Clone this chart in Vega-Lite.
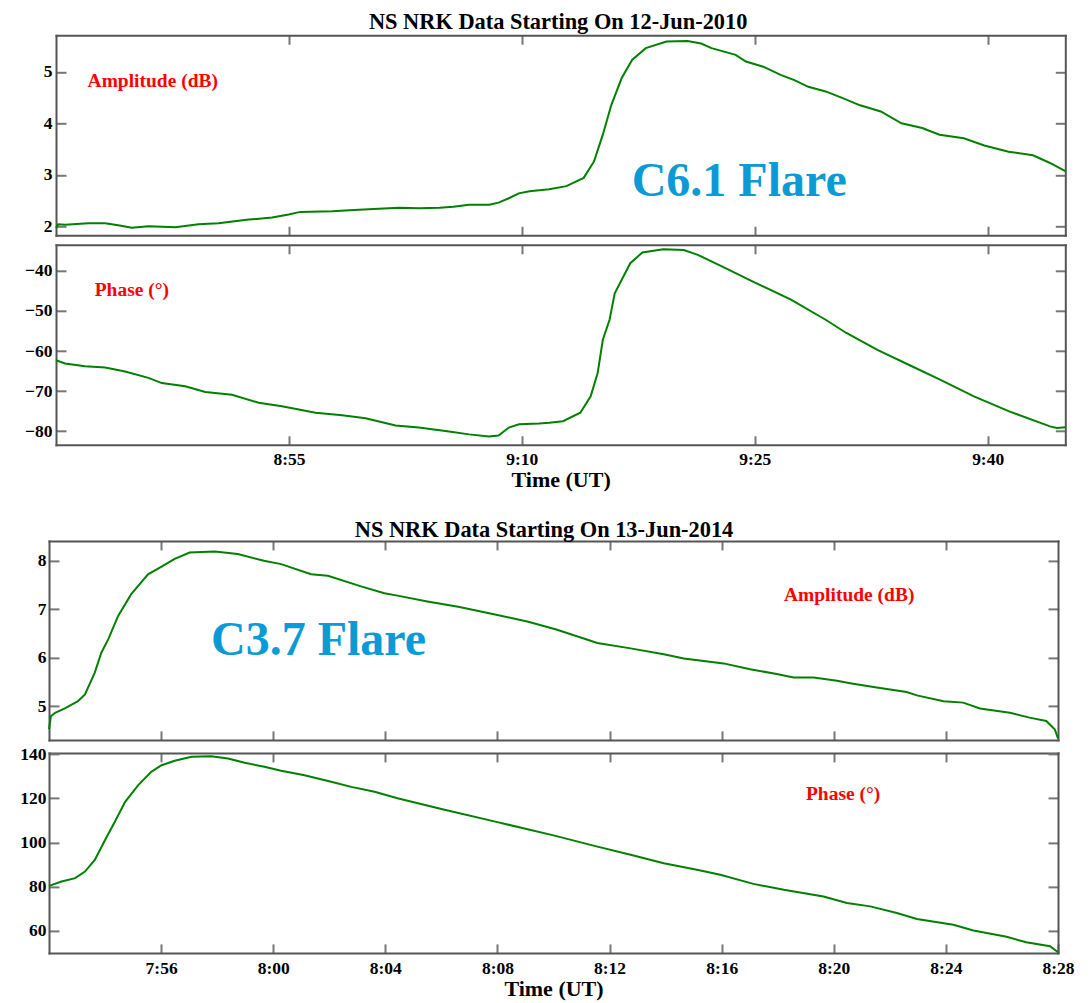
{
  "$schema": "https://vega.github.io/schema/vega-lite/v6.json",
  "background": "white",
  "padding": {"left": 0, "top": 10.3, "right": 10, "bottom": 5},
  "config": {
    "font": "Liberation Serif",
    "view": {"stroke": null},
    "axis": {"grid": false, "domain": true, "domainColor": "#555555", "domainWidth": 2, "domainCap": "square", "labelFont": "Liberation Serif", "labelFontWeight": "bold", "labelFontSize": 17.5, "labelColor": "#000000", "tickColor": "#777777", "tickWidth": 2, "titleFont": "Liberation Serif", "titleFontWeight": "bold", "titleFontSize": 22, "titleColor": "#000000", "labelFlush": false, "labelOverlap": false},
    "title": {"font": "Liberation Serif", "fontSize": 22.4, "fontWeight": "bold", "color": "#000000", "anchor": "middle", "baseline": "alphabetic"}
  },
  "datasets": {
    "amp2010": [
      {"t": "2010-06-12T08:40:00", "v": 1.97}, {"t": "2010-06-12T08:40:09", "v": 2.04}, {"t": "2010-06-12T08:40:35", "v": 2.03}, {"t": "2010-06-12T08:42:05", "v": 2.06}, {"t": "2010-06-12T08:43:10", "v": 2.06}, {"t": "2010-06-12T08:44:00", "v": 2.02}, {"t": "2010-06-12T08:44:53", "v": 1.97}, {"t": "2010-06-12T08:45:57", "v": 2.0}, {"t": "2010-06-12T08:47:41", "v": 1.98}, {"t": "2010-06-12T08:49:11", "v": 2.04}, {"t": "2010-06-12T08:50:28", "v": 2.06}, {"t": "2010-06-12T08:52:25", "v": 2.13}, {"t": "2010-06-12T08:53:55", "v": 2.17}, {"t": "2010-06-12T08:54:59", "v": 2.23}, {"t": "2010-06-12T08:55:44", "v": 2.28}, {"t": "2010-06-12T08:57:47", "v": 2.29}, {"t": "2010-06-12T08:59:30", "v": 2.32}, {"t": "2010-06-12T09:02:05", "v": 2.36}, {"t": "2010-06-12T09:03:24", "v": 2.35}, {"t": "2010-06-12T09:04:42", "v": 2.36}, {"t": "2010-06-12T09:05:36", "v": 2.38}, {"t": "2010-06-12T09:06:36", "v": 2.42}, {"t": "2010-06-12T09:07:54", "v": 2.42}, {"t": "2010-06-12T09:08:30", "v": 2.46}, {"t": "2010-06-12T09:09:12", "v": 2.55}, {"t": "2010-06-12T09:09:48", "v": 2.64}, {"t": "2010-06-12T09:10:30", "v": 2.68}, {"t": "2010-06-12T09:11:46", "v": 2.72}, {"t": "2010-06-12T09:12:52", "v": 2.78}, {"t": "2010-06-12T09:13:59", "v": 2.94}, {"t": "2010-06-12T09:14:39", "v": 3.26}, {"t": "2010-06-12T09:15:13", "v": 3.78}, {"t": "2010-06-12T09:15:46", "v": 4.36}, {"t": "2010-06-12T09:16:26", "v": 4.88}, {"t": "2010-06-12T09:17:06", "v": 5.23}, {"t": "2010-06-12T09:17:59", "v": 5.46}, {"t": "2010-06-12T09:19:19", "v": 5.59}, {"t": "2010-06-12T09:20:40", "v": 5.6}, {"t": "2010-06-12T09:21:33", "v": 5.55}, {"t": "2010-06-12T09:22:13", "v": 5.46}, {"t": "2010-06-12T09:23:46", "v": 5.33}, {"t": "2010-06-12T09:24:26", "v": 5.2}, {"t": "2010-06-12T09:25:33", "v": 5.1}, {"t": "2010-06-12T09:26:40", "v": 4.94}, {"t": "2010-06-12T09:27:33", "v": 4.84}, {"t": "2010-06-12T09:28:27", "v": 4.71}, {"t": "2010-06-12T09:29:34", "v": 4.62}, {"t": "2010-06-12T09:30:40", "v": 4.49}, {"t": "2010-06-12T09:31:47", "v": 4.35}, {"t": "2010-06-12T09:33:07", "v": 4.23}, {"t": "2010-06-12T09:34:27", "v": 4.0}, {"t": "2010-06-12T09:35:47", "v": 3.91}, {"t": "2010-06-12T09:36:54", "v": 3.78}, {"t": "2010-06-12T09:38:28", "v": 3.71}, {"t": "2010-06-12T09:39:47", "v": 3.57}, {"t": "2010-06-12T09:41:21", "v": 3.45}, {"t": "2010-06-12T09:42:55", "v": 3.38}, {"t": "2010-06-12T09:44:01", "v": 3.23}, {"t": "2010-06-12T09:45:00", "v": 3.07}
    ],
    "ph2010": [
      {"t": "2010-06-12T08:40:00", "v": -62.3}, {"t": "2010-06-12T08:40:35", "v": -63.1}, {"t": "2010-06-12T08:41:52", "v": -63.8}, {"t": "2010-06-12T08:43:10", "v": -64.1}, {"t": "2010-06-12T08:44:27", "v": -65.1}, {"t": "2010-06-12T08:45:57", "v": -66.7}, {"t": "2010-06-12T08:46:49", "v": -68.0}, {"t": "2010-06-12T08:48:19", "v": -68.8}, {"t": "2010-06-12T08:49:37", "v": -70.2}, {"t": "2010-06-12T08:51:20", "v": -70.9}, {"t": "2010-06-12T08:53:03", "v": -72.9}, {"t": "2010-06-12T08:54:33", "v": -73.8}, {"t": "2010-06-12T08:56:43", "v": -75.4}, {"t": "2010-06-12T08:58:26", "v": -76.0}, {"t": "2010-06-12T08:59:56", "v": -76.8}, {"t": "2010-06-12T09:01:52", "v": -78.6}, {"t": "2010-06-12T09:03:22", "v": -79.1}, {"t": "2010-06-12T09:05:19", "v": -80.1}, {"t": "2010-06-12T09:06:36", "v": -80.8}, {"t": "2010-06-12T09:07:53", "v": -81.3}, {"t": "2010-06-12T09:08:30", "v": -81.1}, {"t": "2010-06-12T09:09:10", "v": -79.1}, {"t": "2010-06-12T09:09:49", "v": -78.3}, {"t": "2010-06-12T09:11:07", "v": -78.1}, {"t": "2010-06-12T09:11:46", "v": -77.9}, {"t": "2010-06-12T09:12:39", "v": -77.5}, {"t": "2010-06-12T09:13:46", "v": -75.4}, {"t": "2010-06-12T09:14:26", "v": -71.3}, {"t": "2010-06-12T09:14:53", "v": -65.5}, {"t": "2010-06-12T09:15:13", "v": -57.2}, {"t": "2010-06-12T09:15:39", "v": -52.2}, {"t": "2010-06-12T09:15:59", "v": -45.6}, {"t": "2010-06-12T09:16:26", "v": -42.2}, {"t": "2010-06-12T09:16:59", "v": -38.1}, {"t": "2010-06-12T09:17:46", "v": -35.4}, {"t": "2010-06-12T09:19:06", "v": -34.6}, {"t": "2010-06-12T09:20:26", "v": -34.8}, {"t": "2010-06-12T09:21:20", "v": -36.0}, {"t": "2010-06-12T09:22:53", "v": -38.9}, {"t": "2010-06-12T09:24:53", "v": -42.7}, {"t": "2010-06-12T09:27:20", "v": -47.2}, {"t": "2010-06-12T09:29:34", "v": -52.2}, {"t": "2010-06-12T09:30:54", "v": -55.5}, {"t": "2010-06-12T09:32:54", "v": -59.7}, {"t": "2010-06-12T09:35:07", "v": -63.8}, {"t": "2010-06-12T09:36:54", "v": -67.1}, {"t": "2010-06-12T09:39:07", "v": -71.3}, {"t": "2010-06-12T09:41:21", "v": -75.0}, {"t": "2010-06-12T09:44:01", "v": -78.8}, {"t": "2010-06-12T09:44:28", "v": -79.2}, {"t": "2010-06-12T09:45:00", "v": -79.0}
    ],
    "amp2014": [
      {"t": "2014-06-13T07:52:00", "v": 4.52}, {"t": "2014-06-13T07:52:04", "v": 4.79}, {"t": "2014-06-13T07:52:13", "v": 4.86}, {"t": "2014-06-13T07:52:34", "v": 4.95}, {"t": "2014-06-13T07:53:02", "v": 5.1}, {"t": "2014-06-13T07:53:17", "v": 5.24}, {"t": "2014-06-13T07:53:38", "v": 5.69}, {"t": "2014-06-13T07:53:52", "v": 6.1}, {"t": "2014-06-13T07:54:07", "v": 6.38}, {"t": "2014-06-13T07:54:28", "v": 6.86}, {"t": "2014-06-13T07:54:56", "v": 7.31}, {"t": "2014-06-13T07:55:32", "v": 7.72}, {"t": "2014-06-13T07:56:01", "v": 7.88}, {"t": "2014-06-13T07:56:29", "v": 8.04}, {"t": "2014-06-13T07:57:01", "v": 8.17}, {"t": "2014-06-13T07:57:55", "v": 8.19}, {"t": "2014-06-13T07:58:44", "v": 8.14}, {"t": "2014-06-13T07:59:40", "v": 8.0}, {"t": "2014-06-13T08:00:17", "v": 7.93}, {"t": "2014-06-13T08:01:21", "v": 7.72}, {"t": "2014-06-13T08:01:57", "v": 7.69}, {"t": "2014-06-13T08:03:08", "v": 7.47}, {"t": "2014-06-13T08:03:58", "v": 7.33}, {"t": "2014-06-13T08:04:26", "v": 7.28}, {"t": "2014-06-13T08:05:30", "v": 7.16}, {"t": "2014-06-13T08:06:36", "v": 7.05}, {"t": "2014-06-13T08:08:00", "v": 6.88}, {"t": "2014-06-13T08:09:06", "v": 6.74}, {"t": "2014-06-13T08:10:06", "v": 6.58}, {"t": "2014-06-13T08:11:34", "v": 6.3}, {"t": "2014-06-13T08:12:45", "v": 6.19}, {"t": "2014-06-13T08:13:56", "v": 6.07}, {"t": "2014-06-13T08:14:39", "v": 5.98}, {"t": "2014-06-13T08:16:04", "v": 5.88}, {"t": "2014-06-13T08:17:01", "v": 5.76}, {"t": "2014-06-13T08:17:58", "v": 5.66}, {"t": "2014-06-13T08:18:34", "v": 5.59}, {"t": "2014-06-13T08:19:17", "v": 5.59}, {"t": "2014-06-13T08:20:07", "v": 5.52}, {"t": "2014-06-13T08:20:35", "v": 5.47}, {"t": "2014-06-13T08:21:32", "v": 5.38}, {"t": "2014-06-13T08:22:36", "v": 5.29}, {"t": "2014-06-13T08:22:58", "v": 5.22}, {"t": "2014-06-13T08:23:55", "v": 5.1}, {"t": "2014-06-13T08:24:37", "v": 5.07}, {"t": "2014-06-13T08:25:13", "v": 4.95}, {"t": "2014-06-13T08:26:17", "v": 4.86}, {"t": "2014-06-13T08:26:59", "v": 4.76}, {"t": "2014-06-13T08:27:35", "v": 4.69}, {"t": "2014-06-13T08:27:53", "v": 4.52}, {"t": "2014-06-13T08:28:00", "v": 4.33}
    ],
    "ph2014": [
      {"t": "2014-06-13T07:52:00", "v": 80.3}, {"t": "2014-06-13T07:52:27", "v": 82.3}, {"t": "2014-06-13T07:52:56", "v": 83.8}, {"t": "2014-06-13T07:53:17", "v": 86.8}, {"t": "2014-06-13T07:53:38", "v": 92.1}, {"t": "2014-06-13T07:54:00", "v": 101.1}, {"t": "2014-06-13T07:54:21", "v": 109.4}, {"t": "2014-06-13T07:54:43", "v": 118.4}, {"t": "2014-06-13T07:55:11", "v": 126.0}, {"t": "2014-06-13T07:55:39", "v": 132.0}, {"t": "2014-06-13T07:56:01", "v": 135.0}, {"t": "2014-06-13T07:56:29", "v": 137.0}, {"t": "2014-06-13T07:57:05", "v": 138.8}, {"t": "2014-06-13T07:57:47", "v": 139.1}, {"t": "2014-06-13T07:58:23", "v": 138.1}, {"t": "2014-06-13T07:58:59", "v": 136.1}, {"t": "2014-06-13T07:59:41", "v": 134.3}, {"t": "2014-06-13T08:00:17", "v": 132.5}, {"t": "2014-06-13T08:01:07", "v": 130.5}, {"t": "2014-06-13T08:02:04", "v": 127.5}, {"t": "2014-06-13T08:02:47", "v": 125.2}, {"t": "2014-06-13T08:03:37", "v": 123.0}, {"t": "2014-06-13T08:04:26", "v": 120.0}, {"t": "2014-06-13T08:06:00", "v": 115.2}, {"t": "2014-06-13T08:08:00", "v": 109.2}, {"t": "2014-06-13T08:10:00", "v": 103.2}, {"t": "2014-06-13T08:11:34", "v": 98.1}, {"t": "2014-06-13T08:12:45", "v": 94.4}, {"t": "2014-06-13T08:13:56", "v": 90.6}, {"t": "2014-06-13T08:15:07", "v": 87.6}, {"t": "2014-06-13T08:15:57", "v": 85.3}, {"t": "2014-06-13T08:17:08", "v": 81.2}, {"t": "2014-06-13T08:18:13", "v": 78.5}, {"t": "2014-06-13T08:19:38", "v": 75.5}, {"t": "2014-06-13T08:20:28", "v": 72.5}, {"t": "2014-06-13T08:21:18", "v": 71.0}, {"t": "2014-06-13T08:22:15", "v": 68.0}, {"t": "2014-06-13T08:22:58", "v": 65.3}, {"t": "2014-06-13T08:24:16", "v": 62.7}, {"t": "2014-06-13T08:24:59", "v": 60.1}, {"t": "2014-06-13T08:26:10", "v": 57.2}, {"t": "2014-06-13T08:26:52", "v": 54.7}, {"t": "2014-06-13T08:27:43", "v": 52.9}, {"t": "2014-06-13T08:28:00", "v": 50.2}
    ]
  },
  "vconcat": [
    {
      "vconcat": [
        {
          "width": 1016.3, "height": 200,
          "title": {"text": "NS NRK Data Starting On 12-Jun-2010", "dx": 1, "offset": 1.2, "font": "Liberation Serif", "fontWeight": "bold"},
          "layer": [
            {
              "data": {"name": "amp2010"},
              "mark": {"type": "line", "color": "#008000", "strokeWidth": 2},
              "encoding": {
                "x": {"field": "t", "type": "temporal", "scale": {"domain": [{"year": 2010, "month": 6, "date": 12, "hours": 8, "minutes": 40}, {"year": 2010, "month": 6, "date": 12, "hours": 9, "minutes": 45}], "range": [7, 1016.3]}, "axis": {"orient": "bottom", "values": [{"year": 2010, "month": 6, "date": 12, "hours": 8, "minutes": 55}, {"year": 2010, "month": 6, "date": 12, "hours": 9, "minutes": 10}, {"year": 2010, "month": 6, "date": 12, "hours": 9, "minutes": 25}, {"year": 2010, "month": 6, "date": 12, "hours": 9, "minutes": 40}], "labels": false, "title": null, "tickSize": -9, "minExtent": 0}},
                "y": {"field": "v", "type": "quantitative", "scale": {"domain": [1.825, 5.71], "nice": false, "zero": false}, "axis": {"orient": "left", "offset": -7, "values": [2, 3, 4, 5], "tickSize": -10, "labelPadding": 14, "title": null, "minExtent": 0}}
              }
            },
            {
              "data": {"values": [{"t": "2010-06-12T08:46:14", "v": 4.7, "label": "Amplitude (dB)"}]},
              "mark": {"type": "text", "color": "#ff0000", "fontSize": 19.5, "fontWeight": "bold", "font": "Liberation Serif", "align": "center", "baseline": "alphabetic"},
              "encoding": {
                "x": {"field": "t", "type": "temporal", "scale": {"domain": [{"year": 2010, "month": 6, "date": 12, "hours": 8, "minutes": 40}, {"year": 2010, "month": 6, "date": 12, "hours": 9, "minutes": 45}], "range": [7, 1016.3]}, "axis": {"orient": "top", "values": [{"year": 2010, "month": 6, "date": 12, "hours": 8, "minutes": 55}, {"year": 2010, "month": 6, "date": 12, "hours": 9, "minutes": 10}, {"year": 2010, "month": 6, "date": 12, "hours": 9, "minutes": 25}, {"year": 2010, "month": 6, "date": 12, "hours": 9, "minutes": 40}], "labels": false, "title": null, "tickSize": -9, "minExtent": 0}},
                "y": {"field": "v", "type": "quantitative", "scale": {"domain": [1.825, 5.71], "nice": false, "zero": false}, "axis": {"orient": "right", "values": [2, 3, 4, 5], "labels": false, "tickSize": -10, "title": null, "minExtent": 0}},
                "text": {"field": "label"}
              }
            },
            {
              "data": {"values": [{"t": "2010-06-12T09:24:00", "v": 2.58, "label": "C6.1 Flare"}]},
              "mark": {"type": "text", "color": "#0a9ad6", "fontSize": 48, "fontWeight": "bold", "font": "Liberation Serif", "align": "center", "baseline": "alphabetic"},
              "encoding": {
                "x": {"field": "t", "type": "temporal", "scale": {"domain": [{"year": 2010, "month": 6, "date": 12, "hours": 8, "minutes": 40}, {"year": 2010, "month": 6, "date": 12, "hours": 9, "minutes": 45}], "range": [7, 1016.3]}, "axis": null},
                "y": {"field": "v", "type": "quantitative", "scale": {"domain": [1.825, 5.71], "nice": false, "zero": false}, "axis": null},
                "text": {"field": "label"}
              }
            }
          ],
          "resolve": {"axis": {"x": "independent", "y": "independent"}}
        },
        {
          "width": 1016.3, "height": 200,
          "layer": [
            {
              "data": {"name": "ph2010"},
              "mark": {"type": "line", "color": "#008000", "strokeWidth": 2},
              "encoding": {
                "x": {"field": "t", "type": "temporal", "scale": {"domain": [{"year": 2010, "month": 6, "date": 12, "hours": 8, "minutes": 40}, {"year": 2010, "month": 6, "date": 12, "hours": 9, "minutes": 45}], "range": [7, 1016.3]}, "axis": {"orient": "bottom", "values": [{"year": 2010, "month": 6, "date": 12, "hours": 8, "minutes": 55}, {"year": 2010, "month": 6, "date": 12, "hours": 9, "minutes": 10}, {"year": 2010, "month": 6, "date": 12, "hours": 9, "minutes": 25}, {"year": 2010, "month": 6, "date": 12, "hours": 9, "minutes": 40}], "format": "%-H:%M", "title": "Time (UT)", "titlePadding": 1.5, "tickSize": -9, "labelPadding": 14.5}},
                "y": {"field": "v", "type": "quantitative", "scale": {"domain": [-83.4, -33.5], "nice": false, "zero": false}, "axis": {"orient": "left", "offset": -7, "values": [-80, -70, -60, -50, -40], "tickSize": -10, "labelPadding": 14, "title": null, "minExtent": 0}}
              }
            },
            {
              "data": {"values": [{"t": "2010-06-12T08:44:53", "v": -46.15, "label": "Phase (°)"}]},
              "mark": {"type": "text", "color": "#ff0000", "fontSize": 19.5, "fontWeight": "bold", "font": "Liberation Serif", "align": "center", "baseline": "alphabetic"},
              "encoding": {
                "x": {"field": "t", "type": "temporal", "scale": {"domain": [{"year": 2010, "month": 6, "date": 12, "hours": 8, "minutes": 40}, {"year": 2010, "month": 6, "date": 12, "hours": 9, "minutes": 45}], "range": [7, 1016.3]}, "axis": {"orient": "top", "values": [{"year": 2010, "month": 6, "date": 12, "hours": 8, "minutes": 55}, {"year": 2010, "month": 6, "date": 12, "hours": 9, "minutes": 10}, {"year": 2010, "month": 6, "date": 12, "hours": 9, "minutes": 25}, {"year": 2010, "month": 6, "date": 12, "hours": 9, "minutes": 40}], "labels": false, "title": null, "tickSize": -9, "minExtent": 0}},
                "y": {"field": "v", "type": "quantitative", "scale": {"domain": [-83.4, -33.5], "nice": false, "zero": false}, "axis": {"orient": "right", "values": [-80, -70, -60, -50, -40], "labels": false, "tickSize": -10, "title": null, "minExtent": 0}},
                "text": {"field": "label"}
              }
            }
          ],
          "resolve": {"axis": {"x": "independent", "y": "independent"}}
        }
      ],
      "spacing": 7.5
    },
    {
      "vconcat": [
        {
          "width": 1009, "height": 199,
          "title": {"text": "NS NRK Data Starting On 13-Jun-2014", "dx": -9.5, "offset": -2, "font": "Liberation Serif", "fontWeight": "bold"},
          "layer": [
            {
              "data": {"name": "amp2014"},
              "mark": {"type": "line", "color": "#008000", "strokeWidth": 2},
              "encoding": {
                "x": {"field": "t", "type": "temporal", "scale": {"domain": [{"year": 2014, "month": 6, "date": 13, "hours": 7, "minutes": 52}, {"year": 2014, "month": 6, "date": 13, "hours": 8, "minutes": 28}]}, "axis": {"orient": "bottom", "values": [{"year": 2014, "month": 6, "date": 13, "hours": 7, "minutes": 56}, {"year": 2014, "month": 6, "date": 13, "hours": 8, "minutes": 0}, {"year": 2014, "month": 6, "date": 13, "hours": 8, "minutes": 4}, {"year": 2014, "month": 6, "date": 13, "hours": 8, "minutes": 8}, {"year": 2014, "month": 6, "date": 13, "hours": 8, "minutes": 12}, {"year": 2014, "month": 6, "date": 13, "hours": 8, "minutes": 16}, {"year": 2014, "month": 6, "date": 13, "hours": 8, "minutes": 20}, {"year": 2014, "month": 6, "date": 13, "hours": 8, "minutes": 24}], "labels": false, "title": null, "tickSize": -9, "minExtent": 0}},
                "y": {"field": "v", "type": "quantitative", "scale": {"domain": [4.3, 8.41], "nice": false, "zero": false}, "axis": {"orient": "left", "values": [5, 6, 7, 8], "tickSize": -10, "labelPadding": 13, "title": null, "minExtent": 48.7}}
              }
            },
            {
              "data": {"values": [{"t": "2014-06-13T08:20:33", "v": 7.16, "label": "Amplitude (dB)"}]},
              "mark": {"type": "text", "color": "#ff0000", "fontSize": 19.5, "fontWeight": "bold", "font": "Liberation Serif", "align": "center", "baseline": "alphabetic"},
              "encoding": {
                "x": {"field": "t", "type": "temporal", "scale": {"domain": [{"year": 2014, "month": 6, "date": 13, "hours": 7, "minutes": 52}, {"year": 2014, "month": 6, "date": 13, "hours": 8, "minutes": 28}]}, "axis": {"orient": "top", "values": [{"year": 2014, "month": 6, "date": 13, "hours": 7, "minutes": 56}, {"year": 2014, "month": 6, "date": 13, "hours": 8, "minutes": 0}, {"year": 2014, "month": 6, "date": 13, "hours": 8, "minutes": 4}, {"year": 2014, "month": 6, "date": 13, "hours": 8, "minutes": 8}, {"year": 2014, "month": 6, "date": 13, "hours": 8, "minutes": 12}, {"year": 2014, "month": 6, "date": 13, "hours": 8, "minutes": 16}, {"year": 2014, "month": 6, "date": 13, "hours": 8, "minutes": 20}, {"year": 2014, "month": 6, "date": 13, "hours": 8, "minutes": 24}], "labels": false, "title": null, "tickSize": -9, "minExtent": 0}},
                "y": {"field": "v", "type": "quantitative", "scale": {"domain": [4.3, 8.41], "nice": false, "zero": false}, "axis": {"orient": "right", "values": [5, 6, 7, 8], "labels": false, "tickSize": -10, "title": null, "minExtent": 0}},
                "text": {"field": "label"}
              }
            },
            {
              "data": {"values": [{"t": "2014-06-13T08:01:37", "v": 6.05, "label": "C3.7 Flare"}]},
              "mark": {"type": "text", "color": "#0a9ad6", "fontSize": 48, "fontWeight": "bold", "font": "Liberation Serif", "align": "center", "baseline": "alphabetic"},
              "encoding": {
                "x": {"field": "t", "type": "temporal", "scale": {"domain": [{"year": 2014, "month": 6, "date": 13, "hours": 7, "minutes": 52}, {"year": 2014, "month": 6, "date": 13, "hours": 8, "minutes": 28}]}, "axis": null},
                "y": {"field": "v", "type": "quantitative", "scale": {"domain": [4.3, 8.41], "nice": false, "zero": false}, "axis": null},
                "text": {"field": "label"}
              }
            }
          ],
          "resolve": {"axis": {"x": "independent", "y": "independent"}}
        },
        {
          "width": 1009, "height": 200,
          "layer": [
            {
              "data": {"name": "ph2014"},
              "mark": {"type": "line", "color": "#008000", "strokeWidth": 2},
              "encoding": {
                "x": {"field": "t", "type": "temporal", "scale": {"domain": [{"year": 2014, "month": 6, "date": 13, "hours": 7, "minutes": 52}, {"year": 2014, "month": 6, "date": 13, "hours": 8, "minutes": 28}]}, "axis": {"orient": "bottom", "values": [{"year": 2014, "month": 6, "date": 13, "hours": 7, "minutes": 56}, {"year": 2014, "month": 6, "date": 13, "hours": 8, "minutes": 0}, {"year": 2014, "month": 6, "date": 13, "hours": 8, "minutes": 4}, {"year": 2014, "month": 6, "date": 13, "hours": 8, "minutes": 8}, {"year": 2014, "month": 6, "date": 13, "hours": 8, "minutes": 12}, {"year": 2014, "month": 6, "date": 13, "hours": 8, "minutes": 16}, {"year": 2014, "month": 6, "date": 13, "hours": 8, "minutes": 20}, {"year": 2014, "month": 6, "date": 13, "hours": 8, "minutes": 24}, {"year": 2014, "month": 6, "date": 13, "hours": 8, "minutes": 28}], "format": "%-H:%M", "title": "Time (UT)", "titlePadding": 1.5, "tickSize": -9, "labelPadding": 15.5}},
                "y": {"field": "v", "type": "quantitative", "scale": {"domain": [49.9, 140.6], "nice": false, "zero": false}, "axis": {"orient": "left", "values": [60, 80, 100, 120, 140], "tickSize": -10, "labelPadding": 13, "title": null, "minExtent": 48.7}}
              }
            },
            {
              "data": {"values": [{"t": "2014-06-13T08:20:20", "v": 119.2, "label": "Phase (°)"}]},
              "mark": {"type": "text", "color": "#ff0000", "fontSize": 19.5, "fontWeight": "bold", "font": "Liberation Serif", "align": "center", "baseline": "alphabetic"},
              "encoding": {
                "x": {"field": "t", "type": "temporal", "scale": {"domain": [{"year": 2014, "month": 6, "date": 13, "hours": 7, "minutes": 52}, {"year": 2014, "month": 6, "date": 13, "hours": 8, "minutes": 28}]}, "axis": {"orient": "top", "values": [{"year": 2014, "month": 6, "date": 13, "hours": 7, "minutes": 56}, {"year": 2014, "month": 6, "date": 13, "hours": 8, "minutes": 0}, {"year": 2014, "month": 6, "date": 13, "hours": 8, "minutes": 4}, {"year": 2014, "month": 6, "date": 13, "hours": 8, "minutes": 8}, {"year": 2014, "month": 6, "date": 13, "hours": 8, "minutes": 12}, {"year": 2014, "month": 6, "date": 13, "hours": 8, "minutes": 16}, {"year": 2014, "month": 6, "date": 13, "hours": 8, "minutes": 20}, {"year": 2014, "month": 6, "date": 13, "hours": 8, "minutes": 24}], "labels": false, "title": null, "tickSize": -9, "minExtent": 0}},
                "y": {"field": "v", "type": "quantitative", "scale": {"domain": [49.9, 140.6], "nice": false, "zero": false}, "axis": {"orient": "right", "values": [60, 80, 100, 120, 140], "labels": false, "tickSize": -10, "title": null, "minExtent": 0}},
                "text": {"field": "label"}
              }
            }
          ],
          "resolve": {"axis": {"x": "independent", "y": "independent"}}
        }
      ],
      "spacing": 2
    }
  ],
  "spacing": 28.6
}
